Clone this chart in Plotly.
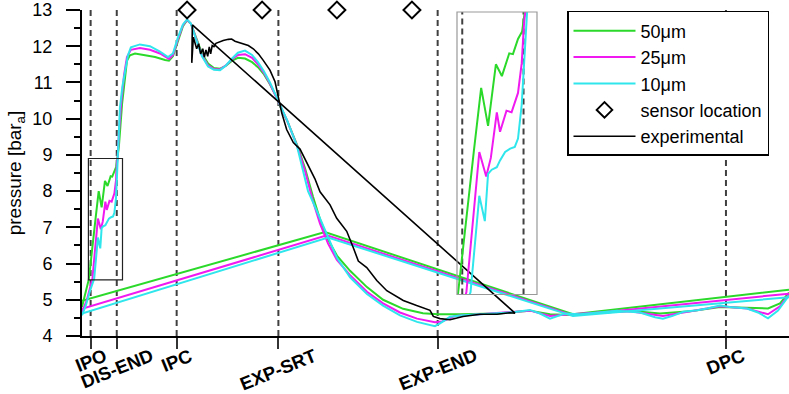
import plotly.graph_objects as go

# ---------------- data ----------------
event_names = ["IPO", "DIS-END", "IPC", "EXP-SRT", "EXP-END", "DPC"]
event_deg = [4.4, 17.7, 48.2, 100.0, 181.1, 327.9]

sensor_deg = [53.5, 91.7, 129.8, 168.0]
sensor_p = [13, 13, 13, 13]

g_x = [0.0, 2.0, 3.5, 6.9, 8.5, 10.0, 11.7, 13.0, 14.6, 15.4, 16.5, 17.4, 18.0, 18.8, 20.4, 21.9, 22.9, 24.4,
       27.0, 32.1, 37.2, 42.3, 44.3, 46.3, 48.9, 51.4, 53.5, 55.5, 58.0, 61.1, 64.2, 67.2, 70.3, 73.3, 76.4,
       79.4, 83.0, 86.6, 89.6, 92.7, 95.7, 98.8, 100.8, 104.4, 109.5, 113.6, 117.6, 121.2, 125.3, 129.8,
       136.5, 145.1, 153.3, 163.5, 173.6, 181.3, 192.5, 211.3, 228.1, 238.3, 248.5, 263.8, 279.0, 294.3,
       309.6, 324.9, 338.6, 349.3, 355.4, 360.0]
g_p = [4.80, 5.25, 5.57, 7.24, 8.00, 7.55, 8.28, 8.14, 8.41, 8.40, 8.58, 8.67, 8.90, 9.25, 10.40, 11.20, 11.60, 11.75,
       11.80, 11.75, 11.70, 11.62, 11.60, 11.72, 12.15, 12.55, 12.72, 12.62, 12.25, 11.80, 11.52, 11.40, 11.38, 11.46, 11.60,
       11.68, 11.66, 11.56, 11.42, 11.22, 10.95, 10.62, 10.35, 9.95, 9.28, 8.62, 7.85, 7.22, 6.66, 6.22,
       5.80, 5.35, 5.00, 4.75, 4.63, 4.60, 4.60, 4.62, 4.70, 4.60, 4.58, 4.65, 4.70, 4.62,
       4.68, 4.80, 4.78, 4.76, 4.90, 5.20]

m_x = [0.0, 2.5, 5.3, 8.1, 9.6, 10.6, 11.9, 12.6, 14.0, 15.1, 16.5, 17.3, 17.8, 18.2, 18.8, 19.9, 21.4, 22.9, 24.9,
       29.5, 34.6, 39.7, 44.3, 46.3, 48.9, 51.4, 53.5, 55.5, 58.0, 61.1, 64.2, 67.2, 70.3, 73.3, 76.4, 79.4,
       83.0, 86.6, 89.6, 92.7, 95.7, 98.8, 100.8, 104.4, 109.5, 113.6, 117.6, 121.2, 125.3, 129.8, 136.5,
       145.1, 153.3, 161.9, 170.6, 179.7, 183.3, 189.9, 202.7, 220.5, 228.1, 238.3, 248.5, 263.8, 279.0,
       295.8, 309.6, 324.9, 338.6, 349.3, 355.4, 360.0]
m_p = [4.66, 5.00, 5.58, 7.24, 6.95, 7.17, 7.71, 7.48, 7.73, 7.71, 7.94, 8.29, 8.76, 8.96, 9.60, 10.40, 11.20, 11.70, 11.90,
       11.95, 11.90, 11.80, 11.65, 11.76, 12.20, 12.58, 12.73, 12.62, 12.22, 11.75, 11.47, 11.37, 11.36, 11.47, 11.64, 11.76,
       11.78, 11.68, 11.50, 11.26, 10.97, 10.62, 10.38, 9.95, 9.25, 8.55, 7.72, 7.10, 6.55, 6.10, 5.68,
       5.22, 4.90, 4.65, 4.48, 4.38, 4.40, 4.55, 4.60, 4.66, 4.70, 4.55, 4.60, 4.65, 4.68,
       4.55, 4.68, 4.82, 4.76, 4.60, 4.82, 5.15]

c_x = [0.0, 2.0, 4.1, 6.2, 8.1, 9.3, 10.0, 10.8, 11.9, 12.6, 13.7, 14.8, 15.8, 16.5, 17.3, 17.8, 18.3, 18.8, 19.3,
       20.6, 21.9, 23.4, 24.9, 29.5, 34.6, 39.7, 43.8, 46.3, 48.9, 51.4, 53.5, 55.5, 58.0, 61.1, 64.2, 67.2,
       70.3, 73.3, 76.4, 79.4, 83.0, 86.6, 89.6, 92.7, 95.7, 98.8, 100.8, 104.4, 109.5, 115.1, 117.6, 122.7,
       129.8, 136.5, 145.1, 153.3, 161.9, 170.6, 179.7, 182.3, 187.4, 194.0, 202.7, 211.3, 220.5, 228.1,
       233.2, 238.3, 242.4, 245.9, 253.6, 262.2, 272.4, 284.1, 291.8, 295.8, 300.4, 306.2, 313.3, 318.2,
       324.9, 330.0, 338.6, 344.2, 349.3, 354.4, 360.0]
c_p = [4.57, 4.85, 5.25, 5.58, 6.72, 6.42, 6.98, 7.03, 7.06, 7.14, 7.24, 7.28, 7.30, 7.40, 7.80, 8.40, 9.10, 9.80, 10.30,
       10.90, 11.35, 11.75, 11.97, 12.05, 12.00, 11.85, 11.70, 11.80, 12.25, 12.60, 12.74, 12.62, 12.20, 11.72, 11.44, 11.35,
       11.34, 11.47, 11.66, 11.82, 11.88, 11.76, 11.56, 11.30, 11.00, 10.64, 10.40, 9.96, 9.24, 8.00, 7.70, 7.07,
       6.16, 5.62, 5.16, 4.84, 4.57, 4.39, 4.27, 4.35, 4.53, 4.57, 4.60, 4.62, 4.66, 4.72,
       4.62, 4.48, 4.55, 4.62, 4.60, 4.65, 4.70, 4.65, 4.52, 4.48, 4.55, 4.67, 4.71, 4.76,
       4.84, 4.80, 4.76, 4.65, 4.49, 4.70, 5.12]

# straight "wrap" segments of each simulated series
g_wrap_x = [0.0, 123.7, 250.0, 360.0]
g_wrap_p = [4.97, 6.87, 4.60, 5.28]
m_wrap_x = [0.0, 124.7, 250.0, 360.0]
m_wrap_p = [4.75, 6.78, 4.57, 5.17]
c_wrap_x = [0.0, 125.3, 250.0, 360.0]
c_wrap_p = [4.62, 6.72, 4.55, 5.07]

exp_x = [56.2, 55.9, 56.7, 57.5, 58.4, 59.4, 60.4, 61.5, 62.3, 63.1, 64.0, 64.8, 65.5, 66.3, 67.2, 68.2, 71.9,
         74.5, 76.2, 77.9, 81.3, 84.7, 87.2, 89.8, 92.3, 95.7, 98.3, 100.0, 101.7, 104.2, 107.6, 111.0, 114.4,
         118.6, 121.2, 126.3, 129.7, 134.8, 138.2, 140.7, 145.0, 150.1, 155.2, 163.6, 170.4, 177.2, 178.9,
         182.3, 187.4, 194.0, 202.7, 211.3, 217.9, 220.5, 56.2]
exp_p = [12.59, 11.54, 12.25, 12.11, 11.93, 12.07, 11.79, 11.93, 11.70, 11.90, 11.72, 11.98, 11.79, 12.02, 11.99, 12.08, 12.16,
         12.19, 12.20, 12.14, 12.08, 12.02, 11.93, 11.79, 11.61, 11.34, 11.02, 10.61, 10.16, 9.70, 9.34, 9.16, 8.80,
         8.34, 7.98, 7.62, 7.25, 6.89, 6.43, 6.07, 5.89, 5.53, 5.25, 4.98, 4.84, 4.71, 4.54,
         4.48, 4.45, 4.54, 4.60, 4.60, 4.64, 4.63, 12.59]

inset_x_range = [3.26, 20.62]
inset_p_range = [5.55, 8.9]

p_ticks = [4, 5, 6, 7, 8, 9, 10, 11, 12, 13]

# ---------------- style ----------------
FONT = "Liberation Sans, Arial, sans-serif"
GREEN = "#2bd92b"
MAGENTA = "#f01af0"
CYAN = "#2ee6ec"

fig = go.Figure()

series = [("50μm", GREEN, g_x, g_p, g_wrap_x, g_wrap_p),
          ("25μm", MAGENTA, m_x, m_p, m_wrap_x, m_wrap_p),
          ("10μm", CYAN, c_x, c_p, c_wrap_x, c_wrap_p)]

for name, col, xs, ps, wx, wp in series:
    fig.add_trace(go.Scatter(x=xs + [None] + wx, y=ps + [None] + wp, mode="lines", name=name,
                             line=dict(color=col, width=2), connectgaps=False))

# sensor markers on the chart (legend entry supplied by a legend-only twin)
fig.add_trace(go.Scatter(x=sensor_deg, y=sensor_p, mode="markers", name="sensor location", showlegend=False,
                         marker=dict(symbol="diamond-open", size=13, color="black", line=dict(width=2)),
                         cliponaxis=False))
fig.add_trace(go.Scatter(x=[None], y=[None], mode="markers", name="sensor location",
                         marker=dict(symbol="diamond-open", size=12, color="black", line=dict(width=2))))
fig.add_trace(go.Scatter(x=exp_x, y=exp_p, mode="lines", name="experimental",
                         line=dict(color="black", width=1.6)))

# inset: zoom of the early compression rise
for name, col, xs, ps, wx, wp in series:
    fig.add_trace(go.Scatter(x=xs, y=ps, mode="lines", showlegend=False, xaxis="x2", yaxis="y2",
                             line=dict(color=col, width=2)))

W, H = 789, 394
ml, mr, mt, mb = 82, 0, 6, 58
pw, ph = W - ml - mr, H - mt - mb

shapes = []
for e in event_deg:
    shapes.append(dict(type="line", xref="x", yref="y", x0=e, x1=e, y0=4, y1=13,
                       line=dict(color="#404040", width=2, dash="6px,4px"), layer="below"))
for e in event_deg[:2]:
    shapes.append(dict(type="line", xref="x2", yref="y2", x0=e, x1=e, y0=inset_p_range[0], y1=inset_p_range[1],
                       line=dict(color="#404040", width=2, dash="6px,4px"), layer="below"))
shapes.append(dict(type="rect", xref="x", yref="y", x0=inset_x_range[0], x1=inset_x_range[1],
                   y0=inset_p_range[0], y1=inset_p_range[1], line=dict(color="#222", width=1.2)))
shapes.append(dict(type="rect", xref="x2 domain", yref="y2 domain", x0=0, x1=1, y0=0, y1=1,
                   line=dict(color="#999", width=1.2)))

annotations = []
for name, e in zip(event_names, event_deg):
    annotations.append(dict(x=e, y=0, xref="x", yref="paper", yshift=-6, text=name, showarrow=False,
                            textangle=-22, xanchor="center", yanchor="top",
                            font=dict(family=FONT, size=18.5, color="black", weight="bold")))

fig.update_layout(
    width=W, height=H, margin=dict(l=ml, r=mr, t=mt, b=mb),
    paper_bgcolor="white", plot_bgcolor="rgba(0,0,0,0)",
    font=dict(family=FONT, color="black"),
    xaxis=dict(range=[0, 360], tickvals=event_deg, showticklabels=False, ticks="outside", ticklen=11,
               tickwidth=2, tickcolor="#333", showline=True, linewidth=2, linecolor="black",
               showgrid=False, zeroline=False),
    yaxis=dict(range=[4, 13], tickvals=p_ticks, ticks="outside", ticklen=14, tickwidth=1.5, tickcolor="black",
               showline=True, linewidth=2, linecolor="black", showgrid=False, zeroline=False,
               tickfont=dict(size=18, family=FONT), ticklabelstandoff=10, ticklabeloverflow="allow",
               minor=dict(dtick=0.5, ticks="outside", ticklen=6, tickwidth=1.5, tickcolor="black", showgrid=False),
               title=dict(text="pressure [bar<sub>a</sub>]", font=dict(size=19, family=FONT), standoff=6)),
    xaxis2=dict(domain=[(457 - ml) / pw, (537 - ml) / pw], anchor="y2", range=inset_x_range, visible=False),
    yaxis2=dict(domain=[(H - mb - 294) / ph, (H - mb - 8) / ph], anchor="x2", range=inset_p_range, visible=False),
    legend=dict(x=(567 - ml) / pw, y=(H - mb - 7) / ph, xanchor="left", yanchor="top",
                bgcolor="white", bordercolor="black", borderwidth=1.5,
                font=dict(size=18, family=FONT), itemwidth=62),
    shapes=shapes, annotations=annotations, showlegend=True,
)

fig.write_html("out.html")
